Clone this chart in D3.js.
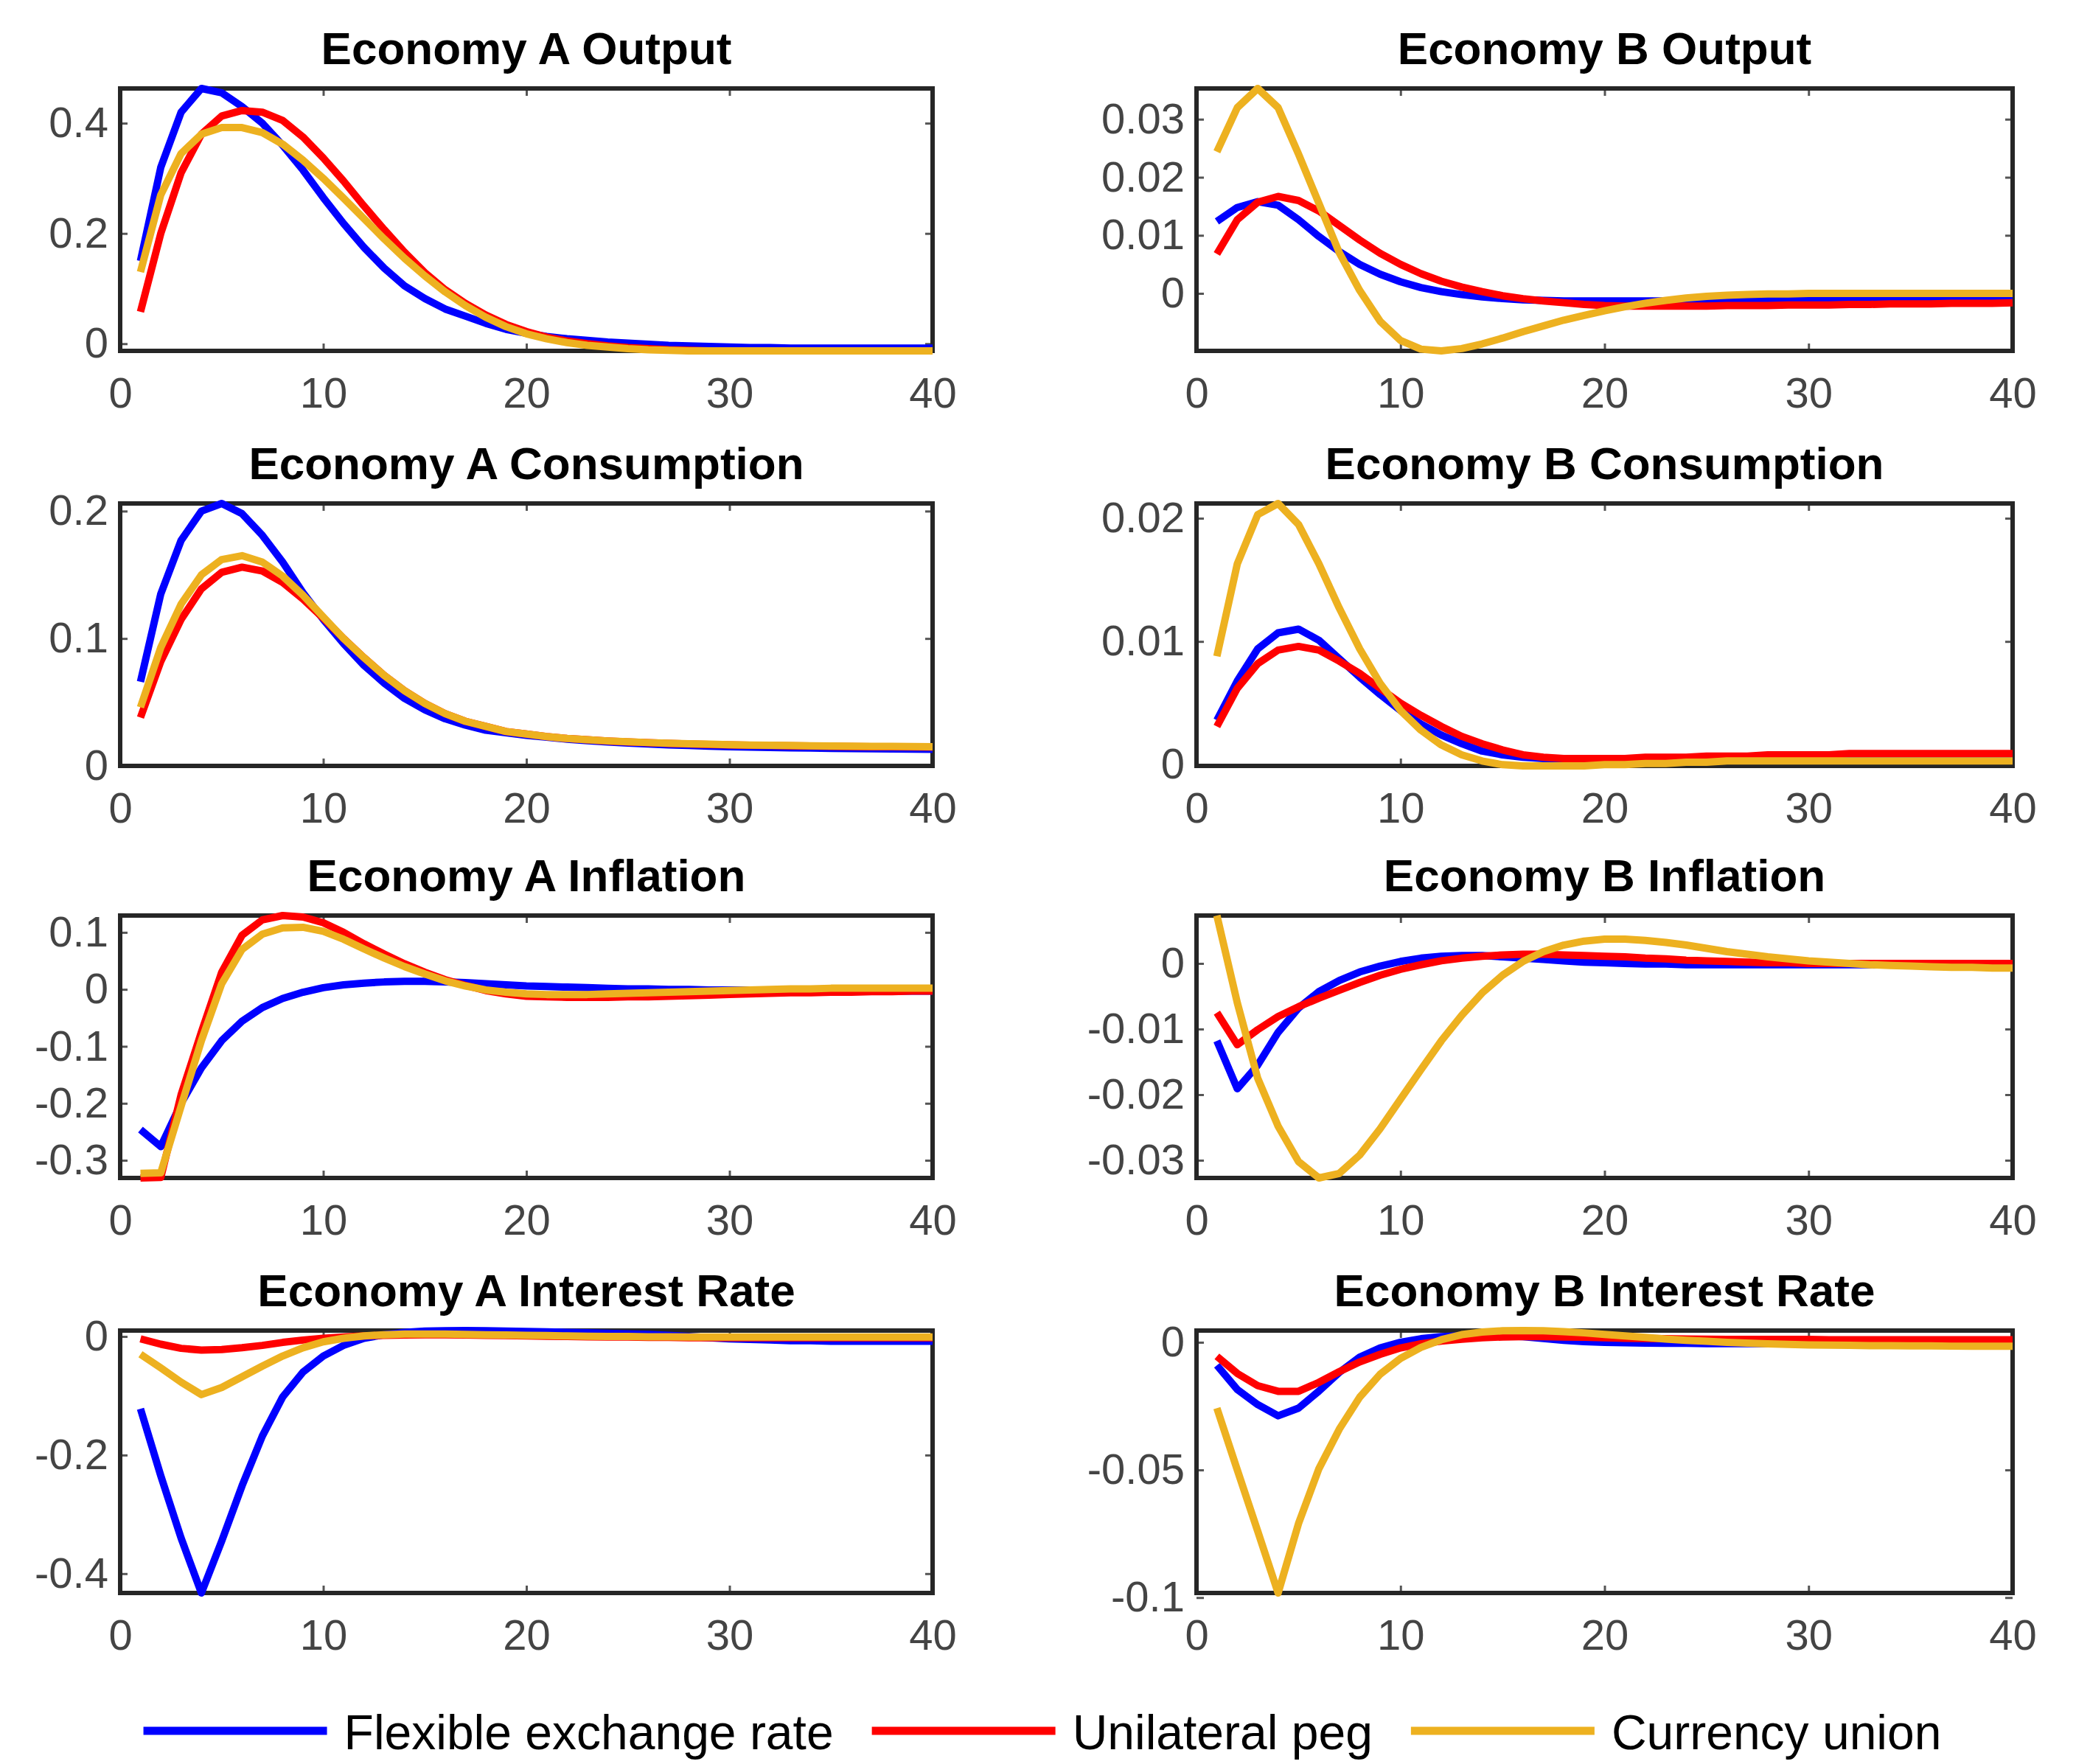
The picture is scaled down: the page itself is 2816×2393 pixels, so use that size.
<!DOCTYPE html>
<html>
<head>
<meta charset="utf-8">
<script src="https://cdn.jsdelivr.net/npm/d3@7/dist/d3.min.js"></script>
<style>
  html, body { margin: 0; padding: 0; background: #fff; }
  svg { display: block; }
</style>
</head>
<body>
<script>
// ---------------- DATA ----------------
const periods = [1,2,3,4,5,6,7,8,9,10,11,12,13,14,15,16,17,18,19,20,21,22,23,24,25,26,27,28,29,30,31,32,33,34,35,36,37,38,39,40];
const seriesNames = ["Flexible exchange rate", "Unilateral peg", "Currency union"];
const seriesColors = ["#0000FF", "#FF0000", "#EDB120"];
const xTicks = [0, 10, 20, 30, 40];

// Economy A Output
const aOutputFlex = [0.15,0.32,0.42,0.463,0.455,0.43,0.40,0.36,0.315,0.265,0.218,0.175,0.137,0.105,0.082,0.063,0.05,0.037,0.026,0.019,0.013,0.009,0.006,0.003,0.001,-0.001,-0.003,-0.004,-0.005,-0.006,-0.007,-0.007,-0.008,-0.008,-0.008,-0.008,-0.008,-0.008,-0.008,-0.008];
const aOutputPeg  = [0.058,0.2,0.31,0.38,0.413,0.423,0.42,0.405,0.375,0.337,0.295,0.25,0.207,0.166,0.129,0.098,0.073,0.052,0.035,0.022,0.012,0.005,0.0,-0.004,-0.007,-0.009,-0.011,-0.012,-0.013,-0.013,-0.013,-0.013,-0.013,-0.013,-0.013,-0.013,-0.013,-0.013,-0.013,-0.013];
const aOutputCU   = [0.13,0.27,0.345,0.38,0.392,0.392,0.383,0.362,0.333,0.3,0.264,0.227,0.19,0.155,0.123,0.094,0.069,0.048,0.031,0.018,0.009,0.002,-0.003,-0.006,-0.009,-0.011,-0.012,-0.013,-0.013,-0.013,-0.013,-0.013,-0.013,-0.013,-0.013,-0.013,-0.013,-0.013,-0.013,-0.013];

// Economy B Output
const bOutputFlex = [0.0124,0.0148,0.0158,0.0152,0.0127,0.0098,0.0072,0.005,0.0033,0.002,0.001,0.0003,-0.0002,-0.0006,-0.0009,-0.0011,-0.0012,-0.0013,-0.0013,-0.0013,-0.0013,-0.0013,-0.0013,-0.0013,-0.0013,-0.0012,-0.0012,-0.0012,-0.0012,-0.0011,-0.0011,-0.0011,-0.0011,-0.001,-0.001,-0.001,-0.001,-0.001,-0.001,-0.001];
const bOutputPeg  = [0.0068,0.0127,0.0157,0.0167,0.016,0.0142,0.0117,0.0092,0.0069,0.005,0.0034,0.0021,0.0011,0.0003,-0.0004,-0.0009,-0.0013,-0.0016,-0.0019,-0.0021,-0.0022,-0.0022,-0.0022,-0.0022,-0.0022,-0.0021,-0.0021,-0.0021,-0.002,-0.002,-0.002,-0.0019,-0.0019,-0.0018,-0.0018,-0.0018,-0.0017,-0.0017,-0.0017,-0.0016];
const bOutputCU   = [0.0244,0.032,0.0353,0.032,0.024,0.0155,0.007,0.0005,-0.0048,-0.0081,-0.0096,-0.0099,-0.0095,-0.0087,-0.0077,-0.0066,-0.0056,-0.0046,-0.0038,-0.003,-0.0023,-0.0017,-0.0012,-0.0008,-0.0005,-0.0003,-0.0002,-0.0001,-0.0001,0,0,0,0,0,0,0,0,0,0,0];

// Economy A Consumption
const aConsFlex = [0.066,0.135,0.177,0.2,0.206,0.198,0.181,0.16,0.136,0.115,0.096,0.079,0.065,0.053,0.044,0.037,0.032,0.028,0.026,0.024,0.0225,0.021,0.0198,0.0188,0.018,0.0172,0.0165,0.016,0.0155,0.015,0.0147,0.0144,0.0142,0.014,0.0138,0.0136,0.0134,0.0133,0.0132,0.013];
const aConsPeg  = [0.038,0.082,0.115,0.139,0.152,0.156,0.153,0.144,0.131,0.116,0.1,0.085,0.071,0.059,0.049,0.041,0.035,0.031,0.027,0.025,0.023,0.0215,0.0205,0.0195,0.0188,0.0182,0.0177,0.0172,0.0168,0.0165,0.0162,0.016,0.0158,0.0156,0.0154,0.0152,0.0151,0.015,0.0149,0.0148];
const aConsCU   = [0.046,0.093,0.127,0.15,0.162,0.165,0.16,0.149,0.134,0.117,0.1,0.085,0.071,0.059,0.049,0.041,0.035,0.031,0.027,0.025,0.023,0.0215,0.0205,0.0196,0.0189,0.0183,0.0178,0.0174,0.017,0.0167,0.0164,0.0162,0.016,0.0158,0.0156,0.0155,0.0154,0.0153,0.0152,0.0151];

// Economy B Consumption
const bConsFlex = [0.0036,0.0068,0.0094,0.0107,0.011,0.0101,0.0086,0.0071,0.0057,0.0044,0.0033,0.0024,0.0017,0.0011,0.0008,0.0006,0.0005,0.0004,0.0004,0.0004,0.0004,0.0004,0.0004,0.0004,0.0004,0.0004,0.0004,0.0005,0.0005,0.0005,0.0005,0.0005,0.0005,0.0005,0.0005,0.0005,0.0005,0.0005,0.0005,0.0005];
const bConsPeg  = [0.0031,0.0062,0.0082,0.0093,0.0096,0.0093,0.0084,0.0074,0.0062,0.005,0.004,0.0031,0.0023,0.0017,0.0012,0.0008,0.0006,0.0005,0.0005,0.0005,0.0005,0.0006,0.0006,0.0006,0.0007,0.0007,0.0007,0.0008,0.0008,0.0008,0.0008,0.0009,0.0009,0.0009,0.0009,0.0009,0.0009,0.0009,0.0009,0.0009];
const bConsCU   = [0.0088,0.0163,0.0203,0.0212,0.0195,0.0163,0.0127,0.0094,0.0066,0.0044,0.0028,0.0016,0.0008,0.0003,0.0,-0.0001,-0.0001,-0.0001,-0.0001,0.0,0.0,0.0001,0.0001,0.0002,0.0002,0.0003,0.0003,0.0003,0.0003,0.0003,0.0003,0.0003,0.0003,0.0003,0.0003,0.0003,0.0003,0.0003,0.0003,0.0003];

// Economy A Inflation
const aInflFlex = [-0.246,-0.276,-0.2,-0.138,-0.09,-0.056,-0.032,-0.016,-0.005,0.003,0.008,0.011,0.013,0.014,0.014,0.013,0.012,0.01,0.008,0.006,0.005,0.004,0.003,0.002,0.001,0.001,0.0,0.0,-0.001,-0.001,-0.001,-0.002,-0.002,-0.002,-0.002,-0.003,-0.003,-0.003,-0.003,-0.003];
const aInflPeg  = [-0.331,-0.33,-0.185,-0.075,0.03,0.095,0.122,0.1296,0.127,0.117,0.1,0.08,0.062,0.045,0.03,0.017,0.007,-0.002,-0.008,-0.012,-0.013,-0.014,-0.014,-0.014,-0.013,-0.013,-0.012,-0.011,-0.01,-0.009,-0.008,-0.007,-0.006,-0.006,-0.005,-0.005,-0.004,-0.004,-0.003,-0.003];
const aInflCU   = [-0.323,-0.322,-0.205,-0.09,0.01,0.07,0.097,0.108,0.109,0.102,0.088,0.071,0.055,0.04,0.027,0.015,0.006,-0.001,-0.005,-0.008,-0.009,-0.009,-0.009,-0.008,-0.007,-0.006,-0.005,-0.004,-0.003,-0.002,-0.001,0.0,0.001,0.001,0.002,0.002,0.002,0.002,0.002,0.002];

// Economy B Inflation
const bInflFlex = [-0.0118,-0.0191,-0.0155,-0.0105,-0.0068,-0.0043,-0.0026,-0.0013,-0.0004,0.0003,0.0008,0.0011,0.0012,0.0012,0.001,0.0008,0.0006,0.0004,0.0002,0.0001,0.0,-0.0001,-0.0001,-0.0002,-0.0002,-0.0002,-0.0002,-0.0002,-0.0002,-0.0002,-0.0002,-0.0002,-0.0002,-0.0001,-0.0001,-0.0001,-0.0001,-0.0001,-0.0001,-0.0001];
const bInflPeg  = [-0.0075,-0.0124,-0.0101,-0.0081,-0.0066,-0.0053,-0.0041,-0.0029,-0.0018,-0.0009,-0.0002,0.0004,0.0008,0.0011,0.0013,0.0014,0.0014,0.0013,0.0012,0.0011,0.001,0.0008,0.0007,0.0005,0.0004,0.0003,0.0002,0.0001,0.0001,0.0,0.0,0.0,0.0,0.0,0.0,0.0,0.0,0.0,0.0,0.0];
const bInflCU   = [0.0073,-0.006,-0.0175,-0.0248,-0.0302,-0.0327,-0.032,-0.0292,-0.0252,-0.0207,-0.0162,-0.0118,-0.0079,-0.0045,-0.0018,0.0003,0.0018,0.0028,0.0034,0.0037,0.0037,0.0035,0.0032,0.0028,0.0023,0.0018,0.0014,0.001,0.0007,0.0004,0.0002,0.0,-0.0002,-0.0003,-0.0004,-0.0005,-0.0006,-0.0006,-0.0007,-0.0007];

// Economy A Interest Rate
const aRateFlex = [-0.122,-0.235,-0.34,-0.4326,-0.345,-0.252,-0.168,-0.102,-0.06,-0.033,-0.015,-0.003,0.003,0.007,0.009,0.0098,0.01,0.0098,0.0092,0.0085,0.0078,0.007,0.0062,0.0053,0.0044,0.0035,0.002,0.0,-0.002,-0.004,-0.005,-0.006,-0.007,-0.007,-0.008,-0.008,-0.008,-0.008,-0.008,-0.008];
const aRatePeg  = [-0.004,-0.013,-0.02,-0.023,-0.022,-0.019,-0.015,-0.01,-0.006,-0.003,-0.001,0.001,0.002,0.0025,0.003,0.003,0.0025,0.002,0.0015,0.001,0.0005,0.0,-0.0005,-0.001,-0.001,-0.0015,-0.0015,-0.002,-0.002,-0.002,-0.002,-0.002,-0.002,-0.002,-0.002,-0.002,-0.002,-0.002,-0.002,-0.002];
const aRateCU   = [-0.03,-0.053,-0.077,-0.098,-0.086,-0.068,-0.05,-0.033,-0.019,-0.009,-0.003,0.001,0.003,0.004,0.004,0.004,0.0035,0.003,0.0025,0.002,0.0015,0.001,0.0005,0.0,0.0,-0.0005,-0.0005,-0.001,-0.001,-0.001,-0.001,-0.001,-0.001,-0.001,-0.001,-0.001,-0.001,-0.001,-0.001,-0.001];

// Economy B Interest Rate
const bRateFlex = [-0.009,-0.0185,-0.0244,-0.0288,-0.0258,-0.0191,-0.0118,-0.0058,-0.0022,0.0,0.0014,0.0022,0.0026,0.0027,0.0026,0.0022,0.0015,0.0008,0.0003,0.0,-0.0002,-0.0003,-0.0004,-0.0004,-0.0005,-0.0005,-0.0005,-0.0005,-0.0005,-0.0005,-0.0005,-0.0005,-0.0005,-0.0005,-0.0005,-0.0005,-0.0005,-0.0005,-0.0005,-0.0005];
const bRatePeg  = [-0.0055,-0.0122,-0.017,-0.0192,-0.0192,-0.0157,-0.0115,-0.0077,-0.0047,-0.0022,-0.0006,0.0005,0.0012,0.0018,0.0021,0.0022,0.0022,0.0021,0.002,0.0018,0.0016,0.0015,0.0014,0.0013,0.0012,0.0011,0.0011,0.0011,0.0011,0.0011,0.001,0.001,0.001,0.001,0.001,0.001,0.001,0.001,0.001,0.001];
const bRateCU   = [-0.0258,-0.05,-0.074,-0.0982,-0.071,-0.0495,-0.034,-0.0215,-0.0125,-0.0063,-0.002,0.001,0.003,0.004,0.0045,0.0046,0.0045,0.0042,0.0037,0.0031,0.0025,0.0019,0.0013,0.0008,0.0004,0.0,-0.0003,-0.0006,-0.0008,-0.001,-0.0011,-0.0012,-0.0013,-0.0013,-0.0014,-0.0014,-0.0015,-0.0015,-0.0015,-0.0015];

// Panel titles, y-limits and y-tick labels
const panelTitles = ["Economy A Output","Economy B Output","Economy A Consumption","Economy B Consumption",
                     "Economy A Inflation","Economy B Inflation","Economy A Interest Rate","Economy B Interest Rate"];
const panelSeries = [
  [aOutputFlex, aOutputPeg, aOutputCU], [bOutputFlex, bOutputPeg, bOutputCU],
  [aConsFlex, aConsPeg, aConsCU],       [bConsFlex, bConsPeg, bConsCU],
  [aInflFlex, aInflPeg, aInflCU],       [bInflFlex, bInflPeg, bInflCU],
  [aRateFlex, aRatePeg, aRateCU],       [bRateFlex, bRatePeg, bRateCU]
];
const yLimits = [[-0.013, 0.463], [-0.0099, 0.0353], [0, 0.206], [-0.0001, 0.0212],
                 [-0.331, 0.1296], [-0.0327, 0.0073], [-0.4326, 0.01], [-0.0982, 0.0046]];
const yTickValues = [[0, 0.2, 0.4], [0, 0.01, 0.02, 0.03], [0, 0.1, 0.2], [0, 0.01, 0.02],
                     [-0.3, -0.2, -0.1, 0, 0.1], [-0.03, -0.02, -0.01, 0], [-0.4, -0.2, 0], [-0.1, -0.05, 0]];

// ---------------- LAYOUT ----------------
const W = 2816, H = 2393;
const colX = [[163, 1265], [1623, 2730]];
const rowTop = [120, 683, 1242, 1805];
const boxH = 356;
const axisColor = "#262626";
const tickLabelColor = "#444444";
const fontFam = "'Liberation Sans', Arial, Helvetica, sans-serif";

const svg = d3.select("body").append("svg")
  .attr("width", W).attr("height", H)
  .attr("viewBox", `0 0 ${W} ${H}`);
svg.append("rect").attr("width", W).attr("height", H).attr("fill", "#fff");

panelTitles.forEach((title, i) => {
  const col = i % 2, row = Math.floor(i / 2);
  const [x0, x1] = colX[col];
  const top = rowTop[row], bottom = top + boxH;
  const x = d3.scaleLinear().domain([0, 40]).range([x0, x1]);
  const y = d3.scaleLinear().domain(yLimits[i]).range([bottom, top]);
  const g = svg.append("g");

  // axes (ticks inward on all four sides)
  const styleAxis = (sel) => {
    sel.attr("font-family", fontFam).attr("font-size", 58).attr("color", axisColor);
    sel.select(".domain").remove();
    sel.selectAll(".tick line").attr("stroke-width", 3).attr("stroke", "#555");
    sel.selectAll(".tick text").attr("fill", tickLabelColor);
  };
  g.append("g").attr("transform", `translate(0,${bottom})`)
    .call(d3.axisBottom(x).tickValues(xTicks).tickSizeInner(-10).tickSizeOuter(0).tickPadding(36).tickFormat(d => String(d)))
    .call(styleAxis);
  g.append("g").attr("transform", `translate(0,${top})`)
    .call(d3.axisTop(x).tickValues(xTicks).tickSizeInner(-10).tickSizeOuter(0).tickFormat(""))
    .call(styleAxis);
  g.append("g").attr("transform", `translate(${x0},0)`)
    .call(d3.axisLeft(y).tickValues(yTickValues[i]).tickSizeInner(-10).tickSizeOuter(0).tickPadding(16).tickFormat(d => String(d)))
    .call(styleAxis);
  g.append("g").attr("transform", `translate(${x1},0)`)
    .call(d3.axisRight(y).tickValues(yTickValues[i]).tickSizeInner(-10).tickSizeOuter(0).tickFormat(""))
    .call(styleAxis);

  // box
  g.append("rect")
    .attr("x", x0).attr("y", top).attr("width", x1 - x0).attr("height", boxH)
    .attr("fill", "none").attr("stroke", axisColor).attr("stroke-width", 6);

  // title
  g.append("text")
    .attr("x", (x0 + x1) / 2).attr("y", top - 33)
    .attr("text-anchor", "middle")
    .attr("font-family", fontFam).attr("font-size", 62).attr("font-weight", "bold")
    .attr("fill", "#000")
    .text(title);

  // lines
  const line = d3.line().x((d, k) => x(periods[k])).y(d => y(d));
  panelSeries[i].forEach((vals, s) => {
    g.append("path")
      .datum(vals)
      .attr("d", line)
      .attr("fill", "none")
      .attr("stroke", seriesColors[s])
      .attr("stroke-width", 10)
      .attr("stroke-linejoin", "round")
      .attr("stroke-linecap", "butt");
  });
});

// ---------------- LEGEND ----------------
const legY = 2348, legendCenter = 1414;
const lineLen = 249, gapLineText = 23, gapItems = 52;
const leg = svg.append("g");
const items = seriesNames.map((name, s) => {
  const t = leg.append("text")
    .attr("font-family", fontFam).attr("font-size", 66).attr("fill", "#000")
    .attr("y", legY + 25)
    .text(name);
  return { t, w: t.node().getComputedTextLength(), s };
});
const total = items.reduce((a, it) => a + lineLen + gapLineText + it.w, 0) + gapItems * (items.length - 1);
let cx = legendCenter - total / 2;
items.forEach(it => {
  leg.append("line")
    .attr("x1", cx).attr("x2", cx + lineLen)
    .attr("y1", legY).attr("y2", legY)
    .attr("stroke", seriesColors[it.s]).attr("stroke-width", 11);
  cx += lineLen + gapLineText;
  it.t.attr("x", cx);
  cx += it.w + gapItems;
});
</script>
</body>
</html>
